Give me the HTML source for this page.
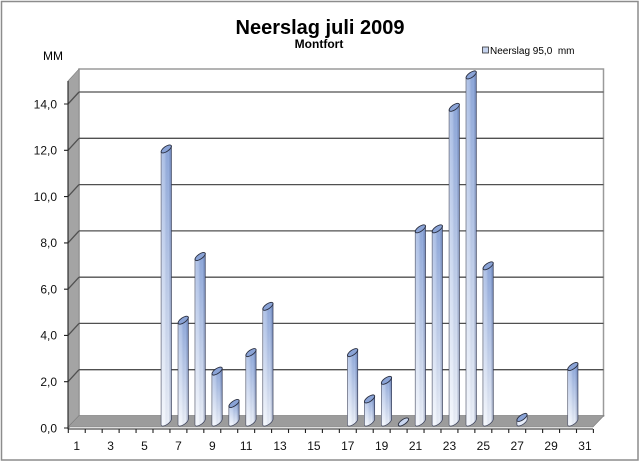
<!DOCTYPE html>
<html><head><meta charset="utf-8"><style>
html,body{margin:0;padding:0;background:#fff;}
svg{display:block;font-family:"Liberation Sans",Arial,sans-serif;}
</style></head><body>
<svg width="640" height="462" viewBox="0 0 640 462" xmlns="http://www.w3.org/2000/svg">
<defs>
<linearGradient id="gv" x1="0" y1="0" x2="0" y2="1">
<stop offset="0" stop-color="#8fa9dc"/><stop offset="1" stop-color="#f0f4fb"/>
</linearGradient>
<linearGradient id="gh" x1="0" y1="0" x2="1" y2="0">
<stop offset="0" stop-color="#ffffff" stop-opacity="0.35"/>
<stop offset="0.35" stop-color="#ffffff" stop-opacity="0.2"/>
<stop offset="0.7" stop-color="#203060" stop-opacity="0"/>
<stop offset="1" stop-color="#203060" stop-opacity="0.35"/>
</linearGradient>
<g id="top"><ellipse cx="0" cy="0" rx="6" ry="2.5" transform="rotate(-35)" fill="#8aa3d6" stroke="#2a2f40" stroke-width="0.9"/></g>
</defs>
<rect x="1.5" y="1.5" width="636.5" height="458.5" fill="#fff" stroke="#8c8c8c" stroke-width="1.5"/>

<text x="320" y="34" font-size="20" font-weight="bold" text-anchor="middle" fill="#000">Neerslag juli 2009</text>
<text x="319" y="48" font-size="12" font-weight="bold" text-anchor="middle" fill="#000">Montfort</text>
<text x="43" y="60" font-size="12" fill="#000">MM</text>
<rect x="482.5" y="47" width="6" height="6" fill="#c5d3ee" stroke="#333" stroke-width="0.8"/>
<text x="490" y="54" font-size="10" fill="#000" xml:space="preserve">Neerslag 95,0  mm</text>

<!-- back wall -->
<rect x="79" y="69" width="524.5" height="347" fill="#fff" stroke="#9a9a9a" stroke-width="1.5"/>
<!-- left wall -->
<polygon points="68,429 68,81 79,69 79,416" fill="#a4a4a4" stroke="#808080" stroke-width="0.6"/>
<!-- floor -->
<polygon points="68,427 79,415.5 604,415.5 593,427" fill="#9c9c9c" stroke="#7a7a7a" stroke-width="0.6"/>

<g stroke="#505050" stroke-width="1.3" fill="none">
<path d="M79 369.7H603.5M79 323.4H603.5M79 277.2H603.5M79 230.9H603.5M79 184.6H603.5M79 138.3H603.5M79 92H603.5"/>
<path d="M68 381.7L79 369.7M68 335.4L79 323.4M68 289.2L79 277.2M68 242.9L79 230.9M68 196.6L79 184.6M68 150.3L79 138.3M68 104L79 92"/>
</g>

<!-- axes -->
<g stroke="#222" stroke-width="1.1" fill="none">
<path d="M68 81V429"/>
<path d="M64 428H68M64 381.7H68M64 335.4H68M64 289.2H68M64 242.9H68M64 196.6H68M64 150.3H68M64 104H68"/>
<path d="M68 429H593"/>
<path d="M68.3 429v4M85.24 429v4M102.18 429v4M119.12 429v4M136.06 429v4M153 429v4M169.94 429v4M186.88 429v4M203.82 429v4M220.76 429v4M237.7 429v4M254.64 429v4M271.58 429v4M288.52 429v4M305.46 429v4M322.4 429v4M339.34 429v4M356.28 429v4M373.22 429v4M390.16 429v4M407.1 429v4M424.04 429v4M440.98 429v4M457.92 429v4M474.86 429v4M491.8 429v4M508.74 429v4M525.68 429v4M542.62 429v4M559.56 429v4M576.5 429v4M593.4 429v4"/>
</g>

<g font-size="12" fill="#111" text-anchor="end">
<text x="57" y="432.3">0,0</text>
<text x="57" y="386">2,0</text>
<text x="57" y="339.7">4,0</text>
<text x="57" y="293.5">6,0</text>
<text x="57" y="247.2">8,0</text>
<text x="57" y="200.9">10,0</text>
<text x="57" y="154.6">12,0</text>
<text x="57" y="108.3">14,0</text>
</g>
<g font-size="12" fill="#111" text-anchor="middle">
<text x="76.77" y="450">1</text>
<text x="110.65" y="450">3</text>
<text x="144.53" y="450">5</text>
<text x="178.41" y="450">7</text>
<text x="212.29" y="450">9</text>
<text x="246.17" y="450">11</text>
<text x="280.05" y="450">13</text>
<text x="313.93" y="450">15</text>
<text x="347.81" y="450">17</text>
<text x="381.69" y="450">19</text>
<text x="415.57" y="450">21</text>
<text x="449.45" y="450">23</text>
<text x="483.33" y="450">25</text>
<text x="517.21" y="450">27</text>
<text x="551.09" y="450">29</text>
<text x="584.97" y="450">31</text>
</g>

<!-- bars -->
<g stroke="#3a4058" stroke-width="0.7">
<g transform="translate(166.27,148.95)"><path d="M-5.12 2.73V275.78A6 2.5 -35 0 0 5.12 270.32V-2.73Z" fill="url(#gv)"/><path d="M-5.12 2.73V275.78A6 2.5 -35 0 0 5.12 270.32V-2.73Z" fill="url(#gh)" stroke="none"/><use href="#top"/></g>
<g transform="translate(183.21,320.2)"><path d="M-5.12 2.73V104.53A6 2.5 -35 0 0 5.12 99.07V-2.73Z" fill="url(#gv)"/><path d="M-5.12 2.73V104.53A6 2.5 -35 0 0 5.12 99.07V-2.73Z" fill="url(#gh)" stroke="none"/><use href="#top"/></g>
<g transform="translate(200.15,256.5)"><path d="M-5.12 2.73V168.23A6 2.5 -35 0 0 5.12 162.77V-2.73Z" fill="url(#gv)"/><path d="M-5.12 2.73V168.23A6 2.5 -35 0 0 5.12 162.77V-2.73Z" fill="url(#gh)" stroke="none"/><use href="#top"/></g>
<g transform="translate(217.09,371.1)"><path d="M-5.12 2.73V53.63A6 2.5 -35 0 0 5.12 48.17V-2.73Z" fill="url(#gv)"/><path d="M-5.12 2.73V53.63A6 2.5 -35 0 0 5.12 48.17V-2.73Z" fill="url(#gh)" stroke="none"/><use href="#top"/></g>
<g transform="translate(234.03,403.5)"><path d="M-5.12 2.73V21.23A6 2.5 -35 0 0 5.12 15.77V-2.73Z" fill="url(#gv)"/><path d="M-5.12 2.73V21.23A6 2.5 -35 0 0 5.12 15.77V-2.73Z" fill="url(#gh)" stroke="none"/><use href="#top"/></g>
<g transform="translate(250.97,352.6)"><path d="M-5.12 2.73V72.13A6 2.5 -35 0 0 5.12 66.67V-2.73Z" fill="url(#gv)"/><path d="M-5.12 2.73V72.13A6 2.5 -35 0 0 5.12 66.67V-2.73Z" fill="url(#gh)" stroke="none"/><use href="#top"/></g>
<g transform="translate(267.91,306.3)"><path d="M-5.12 2.73V118.43A6 2.5 -35 0 0 5.12 112.97V-2.73Z" fill="url(#gv)"/><path d="M-5.12 2.73V118.43A6 2.5 -35 0 0 5.12 112.97V-2.73Z" fill="url(#gh)" stroke="none"/><use href="#top"/></g>
<g transform="translate(352.61,352.6)"><path d="M-5.12 2.73V72.13A6 2.5 -35 0 0 5.12 66.67V-2.73Z" fill="url(#gv)"/><path d="M-5.12 2.73V72.13A6 2.5 -35 0 0 5.12 66.67V-2.73Z" fill="url(#gh)" stroke="none"/><use href="#top"/></g>
<g transform="translate(369.55,398.9)"><path d="M-5.12 2.73V25.83A6 2.5 -35 0 0 5.12 20.37V-2.73Z" fill="url(#gv)"/><path d="M-5.12 2.73V25.83A6 2.5 -35 0 0 5.12 20.37V-2.73Z" fill="url(#gh)" stroke="none"/><use href="#top"/></g>
<g transform="translate(386.49,380.3)"><path d="M-5.12 2.73V44.43A6 2.5 -35 0 0 5.12 38.97V-2.73Z" fill="url(#gv)"/><path d="M-5.12 2.73V44.43A6 2.5 -35 0 0 5.12 38.97V-2.73Z" fill="url(#gh)" stroke="none"/><use href="#top"/></g>
<g transform="translate(403.43,422)"><ellipse cx="0" cy="0" rx="6" ry="2.5" transform="rotate(-35)" fill="#c9d6ef" stroke="#2a2f40" stroke-width="0.9"/></g>
<g transform="translate(420.37,228.8)"><path d="M-5.12 2.73V195.93A6 2.5 -35 0 0 5.12 190.47V-2.73Z" fill="url(#gv)"/><path d="M-5.12 2.73V195.93A6 2.5 -35 0 0 5.12 190.47V-2.73Z" fill="url(#gh)" stroke="none"/><use href="#top"/></g>
<g transform="translate(437.31,228.8)"><path d="M-5.12 2.73V195.93A6 2.5 -35 0 0 5.12 190.47V-2.73Z" fill="url(#gv)"/><path d="M-5.12 2.73V195.93A6 2.5 -35 0 0 5.12 190.47V-2.73Z" fill="url(#gh)" stroke="none"/><use href="#top"/></g>
<g transform="translate(454.25,107.3)"><path d="M-5.12 2.73V317.43A6 2.5 -35 0 0 5.12 311.97V-2.73Z" fill="url(#gv)"/><path d="M-5.12 2.73V317.43A6 2.5 -35 0 0 5.12 311.97V-2.73Z" fill="url(#gh)" stroke="none"/><use href="#top"/></g>
<g transform="translate(471.19,74.9)"><path d="M-5.12 2.73V349.83A6 2.5 -35 0 0 5.12 344.37V-2.73Z" fill="url(#gv)"/><path d="M-5.12 2.73V349.83A6 2.5 -35 0 0 5.12 344.37V-2.73Z" fill="url(#gh)" stroke="none"/><use href="#top"/></g>
<g transform="translate(488.13,265.8)"><path d="M-5.12 2.73V158.93A6 2.5 -35 0 0 5.12 153.47V-2.73Z" fill="url(#gv)"/><path d="M-5.12 2.73V158.93A6 2.5 -35 0 0 5.12 153.47V-2.73Z" fill="url(#gh)" stroke="none"/><use href="#top"/></g>
<g transform="translate(522.01,417.4)"><path d="M-5.12 2.73V7.33A6 2.5 -35 0 0 5.12 1.87V-2.73Z" fill="#e6ecf8"/><use href="#top"/></g>
<g transform="translate(572.83,366.5)"><path d="M-5.12 2.73V58.23A6 2.5 -35 0 0 5.12 52.77V-2.73Z" fill="url(#gv)"/><path d="M-5.12 2.73V58.23A6 2.5 -35 0 0 5.12 52.77V-2.73Z" fill="url(#gh)" stroke="none"/><use href="#top"/></g>
</g>
</svg>
</body></html>
